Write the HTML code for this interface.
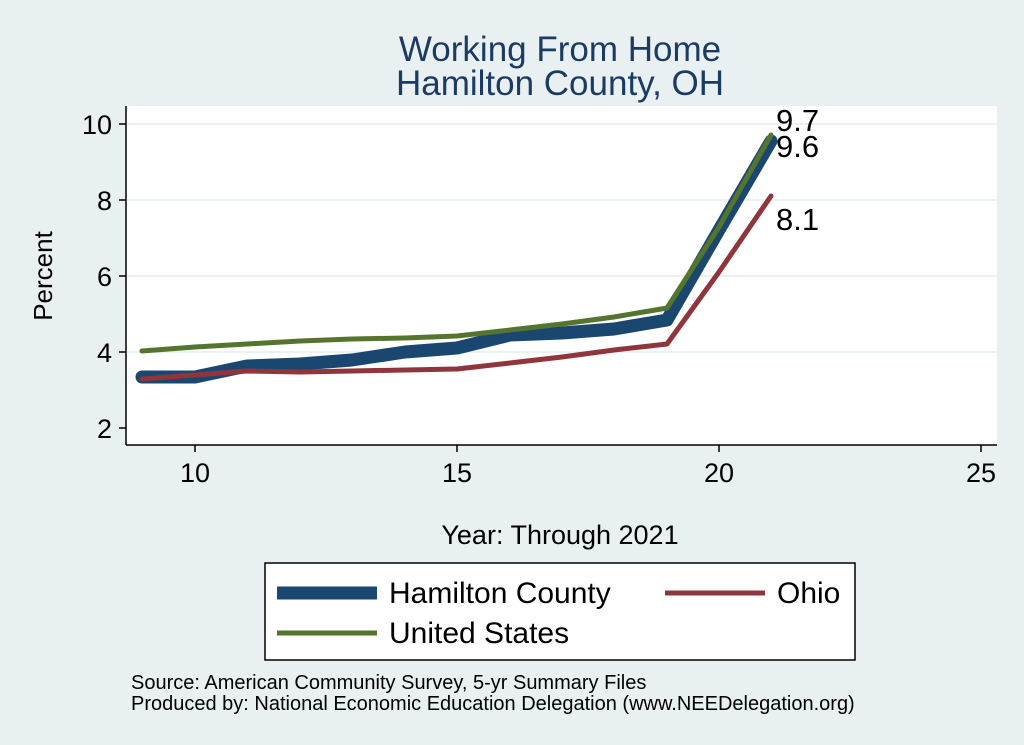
<!DOCTYPE html>
<html><head><style>
body{margin:0;background:#e9f0f2;}
svg{display:block;font-family:"Liberation Sans",sans-serif;}
</style></head><body>
<svg width="1024" height="745" viewBox="0 0 1024 745">
<rect width="1024" height="745" fill="#e9f0f2"/>
<text x="560" y="61" font-size="35" fill="#1c3b63" text-anchor="middle">Working From Home</text>
<text x="560" y="95" font-size="35" fill="#1c3b63" text-anchor="middle">Hamilton County, OH</text>
<rect x="126" y="106" width="871" height="339" fill="#fff"/>
<g stroke="#eaf1f3" stroke-width="2">
<line x1="127" x2="997" y1="124" y2="124"/><line x1="127" x2="997" y1="200" y2="200"/>
<line x1="127" x2="997" y1="276" y2="276"/><line x1="127" x2="997" y1="352" y2="352"/>
</g>
<g stroke="#000" stroke-width="1.5">
<line x1="126" y1="106" x2="126" y2="445"/><line x1="126" y1="445" x2="997" y2="445"/>
<line x1="119" x2="126" y1="124" y2="124"/><line x1="119" x2="126" y1="200" y2="200"/>
<line x1="119" x2="126" y1="276" y2="276"/><line x1="119" x2="126" y1="352" y2="352"/>
<line x1="119" x2="126" y1="428" y2="428"/>
<line x1="195" x2="195" y1="445" y2="452"/><line x1="457" x2="457" y1="445" y2="452"/>
<line x1="719" x2="719" y1="445" y2="452"/><line x1="981" x2="981" y1="445" y2="452"/>
</g>
<g font-size="27" text-anchor="end">
<text x="112" y="134">10</text><text x="112" y="210">8</text><text x="112" y="286">6</text>
<text x="112" y="362">4</text><text x="112" y="438">2</text>
</g>
<g font-size="27" text-anchor="middle">
<text x="195" y="482">10</text><text x="457" y="482">15</text><text x="719" y="482">20</text><text x="981" y="482">25</text>
</g>
<text transform="translate(52,276) rotate(-90)" font-size="26" text-anchor="middle">Percent</text>
<text x="560" y="544" font-size="27" text-anchor="middle">Year: Through 2021</text>
<g fill="none" stroke-linejoin="round" stroke-linecap="round">
<polyline stroke="#1a476f" stroke-width="13" points="142,377 195,377 247,366 300,364 352,360 405,352 457,348 510,335 562,333 614,329 667,320 719,230 771,141"/>
<polyline stroke="#90353b" stroke-width="5" points="142,379 195,375 247,371 300,372 352,371 405,370 457,369 510,363 562,357 614,350 667,344 719,272 771,196"/>
<polyline stroke="#55752f" stroke-width="5" points="142,351 195,347 247,344 300,341 352,339 405,338 457,336 510,330 562,324 614,317 667,308 719,227 771,135"/>
</g>
<g font-size="31">
<text x="776" y="131">9.7</text><text x="776" y="157">9.6</text><text x="776" y="230">8.1</text>
</g>
<rect x="265" y="563" width="590" height="97" fill="#fff" stroke="#000" stroke-width="1.5"/>
<line x1="277" x2="377" y1="593" y2="593" stroke="#1a476f" stroke-width="13"/>
<line x1="665" x2="765" y1="593" y2="593" stroke="#90353b" stroke-width="5"/>
<line x1="277" x2="377" y1="633" y2="633" stroke="#55752f" stroke-width="5"/>
<g font-size="30">
<text x="389" y="603">Hamilton County</text><text x="777" y="603">Ohio</text><text x="389" y="643">United States</text>
</g>
<g font-size="20">
<text x="131" y="689">Source: American Community Survey, 5-yr Summary Files</text>
<text x="131" y="710">Produced by: National Economic Education Delegation (www.NEEDelegation.org)</text>
</g>
</svg>
</body></html>
